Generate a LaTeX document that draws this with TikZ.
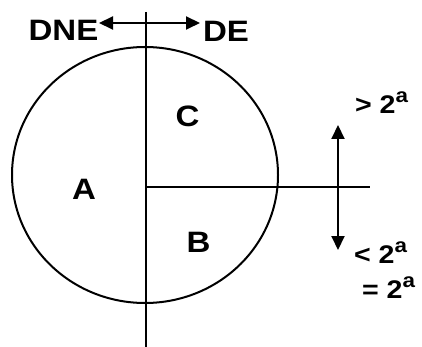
\documentclass[tikz,border=0pt]{standalone}
\usepackage{fontspec}
\setmainfont{Liberation Sans}[FakeStretch=1.12]
\usepackage{tikz}
\usetikzlibrary{arrows.meta}
\tikzset{
  lbl/.style={font=\fontsize{29.5}{34}\selectfont\bfseries, inner sep=0pt, anchor=base},
  rng/.style={font=\fontsize{25.5}{29}\selectfont\bfseries, inner sep=0pt, anchor=base west},
  dbl/.style={{Triangle[length=14pt,width=13pt]}-{Triangle[length=14pt,width=13pt]}}
}
\newcommand{\supa}{\raisebox{0.42em}{\fontsize{20}{20}\selectfont a}}

\begin{document}
\begin{tikzpicture}[x=1pt,y=-1pt,line width=2pt]
  \useasboundingbox (0,0) rectangle (422,347);

  % Circle, vertical axis and the cut to the right
  \draw (145,175) ellipse [x radius=133, y radius=128];
  \draw (146,12) -- (146,347);
  \draw (146,187) -- (370,187);

  % Region labels
  \node[lbl] (dne) at (63.5,41) {DNE};
  \node[lbl] (de) at (226,41.5) {DE};
  \node[lbl] (regC) at (187.5,127) {C};
  \node[lbl] (regA) at (84,200) {A};
  \node[lbl] (regB) at (198.5,252) {B};

  % Range labels
  \node[rng] (gt) at (354,113.5) {> 2\supa};
  \node[rng] (lt) at (353,263.5) {< 2\supa};
  \node[rng] (eq) at (361,298.5) {= 2\supa};

  % Arrows
  \coordinate (tl) at (99,23);
  \coordinate (tr) at (200,23);
  \draw[dbl] (tl) -- (tr);
  \coordinate (up) at (338,125);
  \coordinate (dn) at (338,250);
  \draw[dbl] (up) -- (dn);
\end{tikzpicture}
\end{document}
